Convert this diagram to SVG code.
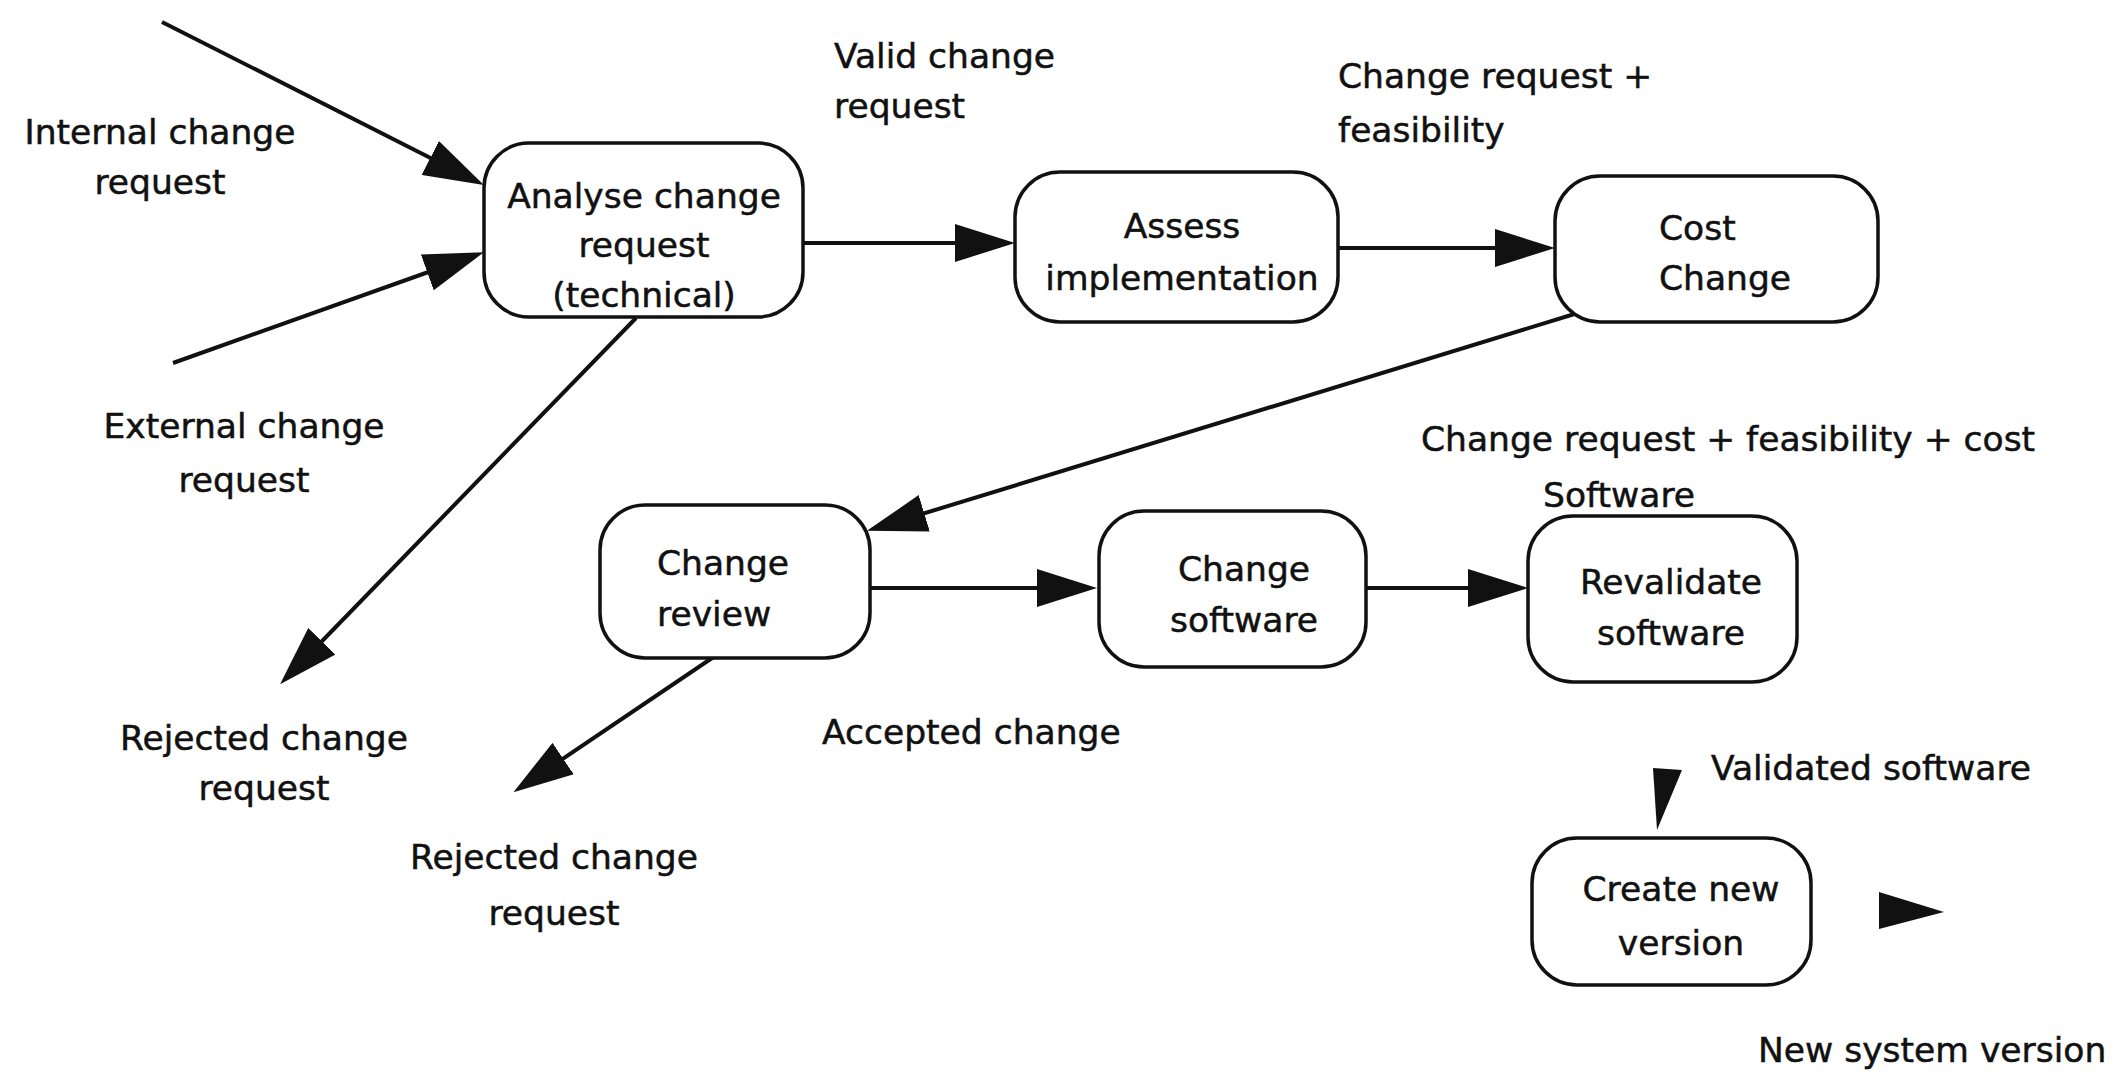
<svg xmlns="http://www.w3.org/2000/svg" width="2123" height="1074" viewBox="0 0 2123 1074">
<style>
.box{fill:#fff;stroke:#111;stroke-width:3.5}
.t{font-family:"DejaVu Sans","Liberation Sans",sans-serif;font-size:34.5px;fill:#111;stroke:#111;stroke-width:0.5}
.m{text-anchor:middle}
.ln{stroke:#111;stroke-width:4;fill:none;marker-end:url(#ah)}
.hd{fill:#111}
</style>
<defs>
<marker id="ah" markerUnits="userSpaceOnUse" markerWidth="60" markerHeight="38" viewBox="0 0 60 38" refX="40" refY="19" orient="auto">
<path d="M0,0 L60,19 L0,38 z" fill="#111"/>
</marker>
</defs>
<rect width="2123" height="1074" fill="#fff"/>
<g id="connectors">
<line class="ln" x1="162" y1="22" x2="466" y2="176"/>
<line class="ln" x1="173" y1="363" x2="465" y2="259"/>
<line class="ln" x1="636" y1="318" x2="294" y2="670"/>
<line class="ln" x1="803" y1="243" x2="995" y2="243"/>
<line class="ln" x1="1338" y1="248" x2="1535" y2="248"/>
<line class="ln" x1="1581" y1="312" x2="886" y2="525"/>
<line class="ln" x1="870" y1="588" x2="1077" y2="588"/>
<line class="ln" x1="1366" y1="588" x2="1508" y2="588"/>
<line class="ln" x1="718" y1="654" x2="530" y2="781"/>
<polygon class="hd" points="1653,768 1682,770 1657,830"/>
<polygon class="hd" points="1879,892 1879,929 1944,912"/>
</g>
<g id="labels">
<text class="t m" x="160" y="144">Internal change</text>
<text class="t m" x="160" y="194">request</text>
<text class="t m" x="244" y="438">External change</text>
<text class="t m" x="244" y="492">request</text>
<text class="t m" x="264" y="750">Rejected change</text>
<text class="t m" x="264" y="800">request</text>
<text class="t m" x="554" y="869">Rejected change</text>
<text class="t m" x="554" y="925">request</text>
<text class="t" x="834" y="68">Valid change</text>
<text class="t" x="834" y="118">request</text>
<text class="t" x="1338" y="88">Change request +</text>
<text class="t" x="1338" y="142">feasibility</text>
<text class="t" x="1421" y="451">Change request + feasibility + cost</text>
<text class="t" x="1543" y="507">Software</text>
<text class="t" x="822" y="744">Accepted change</text>
<text class="t" x="1711" y="780">Validated software</text>
<text class="t" x="1758" y="1062">New system version</text>
</g>
<g id="analyse">
<rect class="box" x="484" y="143" width="319" height="174" rx="45"/>
<text class="t m" x="644" y="208">Analyse change</text>
<text class="t m" x="644" y="257">request</text>
<text class="t m" x="644" y="307">(technical)</text>
</g>
<g id="assess">
<rect class="box" x="1015" y="172" width="323" height="150" rx="45"/>
<text class="t m" x="1182" y="238">Assess</text>
<text class="t m" x="1182" y="290">implementation</text>
</g>
<g id="cost">
<rect class="box" x="1555" y="176" width="323" height="146" rx="45"/>
<text class="t" x="1659" y="240">Cost</text>
<text class="t" x="1659" y="290">Change</text>
</g>
<g id="review">
<rect class="box" x="600" y="505" width="270" height="153" rx="45"/>
<text class="t" x="657" y="575">Change</text>
<text class="t" x="657" y="626">review</text>
</g>
<g id="changesoftware">
<rect class="box" x="1099" y="511" width="267" height="156" rx="45"/>
<text class="t m" x="1244" y="581">Change</text>
<text class="t m" x="1244" y="632">software</text>
</g>
<g id="revalidate">
<rect class="box" x="1528" y="516" width="269" height="166" rx="45"/>
<text class="t m" x="1671" y="594">Revalidate</text>
<text class="t m" x="1671" y="645">software</text>
</g>
<g id="createversion">
<rect class="box" x="1532" y="838" width="279" height="147" rx="45"/>
<text class="t m" x="1681" y="901">Create new</text>
<text class="t m" x="1681" y="955">version</text>
</g>
</svg>
